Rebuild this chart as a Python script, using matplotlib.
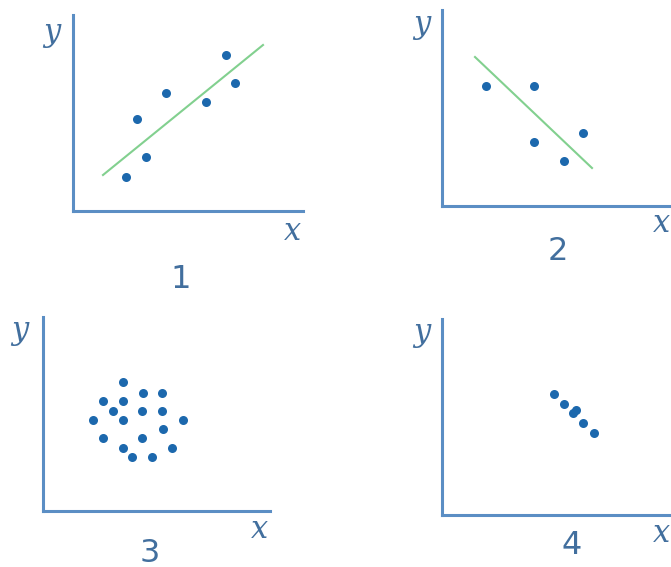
import matplotlib.pyplot as plt

# data in pixel-like units measured from each panel's origin
p1_x = [53, 73, 64, 93, 133, 153, 162]
p1_y = [34, 54, 92, 118, 109, 156, 128]
p1_line_x = [30, 190]
p1_line_y = [36, 166]

p2_x = [44, 92, 92, 141, 122]
p2_y = [120, 120, 64, 73, 45]
p2_line_x = [33, 150]
p2_line_y = [149, 38]

p3_x = [80, 100, 119, 60, 80, 70, 99, 119, 50, 80, 140, 120, 60, 99, 80, 129, 89, 109]
p3_y = [129, 118, 118, 110, 110, 100, 100, 100, 91, 91, 91, 82, 73, 73, 63, 63, 54, 54]

p4_x = [112, 122, 131, 134, 141, 152]
p4_y = [121, 111, 102, 105, 92, 82]

panel_names = ["1", "2", "3", "4"]

W, H = 671, 567
fig = plt.figure(figsize=(W / 100, H / 100), dpi=100)

axis_col = "#5b8ec4"
dot_col = "#1c68ad"
text_col = "#426f9e"
line_col = "#82d08f"

# origin px, width, height, label offsets
panels = [
    dict(ox=73, oy=211, w=230, h=196, ylab=(-21, 178), xlab=(220, -21), num=(108, -69)),
    dict(ox=442, oy=206, w=229, h=196, ylab=(-20, 181), xlab=(220, -17), num=(116, -46)),
    dict(ox=43, oy=511, w=227, h=194, ylab=(-23, 181), xlab=(217, -19), num=(107, -42)),
    dict(ox=442, oy=515, w=229, h=196, ylab=(-20, 182), xlab=(220, -18), num=(130, -30)),
]
xs = [p1_x, p2_x, p3_x, p4_x]
ys = [p1_y, p2_y, p3_y, p4_y]
lines = [(p1_line_x, p1_line_y), (p2_line_x, p2_line_y), None, None]

for i, p in enumerate(panels):
    ax = fig.add_axes([p["ox"] / W, (H - p["oy"]) / H, p["w"] / W, p["h"] / H])
    ax.set_xlim(0, p["w"])
    ax.set_ylim(0, p["h"])
    for s in ["top", "right"]:
        ax.spines[s].set_visible(False)
    for s in ["left", "bottom"]:
        ax.spines[s].set_color(axis_col)
        ax.spines[s].set_linewidth(2.2)
    ax.set_xticks([])
    ax.set_yticks([])
    ax.patch.set_alpha(0)

    if lines[i] is not None:
        ax.plot(lines[i][0], lines[i][1], color=line_col, lw=1.5, zorder=2)
    ax.plot(xs[i], ys[i], "o", color=dot_col, ms=6.5, mec="none", zorder=3)

    ax.text(*p["ylab"], "y", color=text_col, fontsize=22, family="DejaVu Serif",
            style="italic", ha="center", va="center", clip_on=False)
    ax.text(*p["xlab"], "x", color=text_col, fontsize=22, family="DejaVu Serif",
            style="italic", ha="center", va="center", clip_on=False)
    ax.text(*p["num"], panel_names[i], color=text_col, fontsize=23,
            ha="center", va="center", clip_on=False)

fig.savefig("out.png", dpi=100)
